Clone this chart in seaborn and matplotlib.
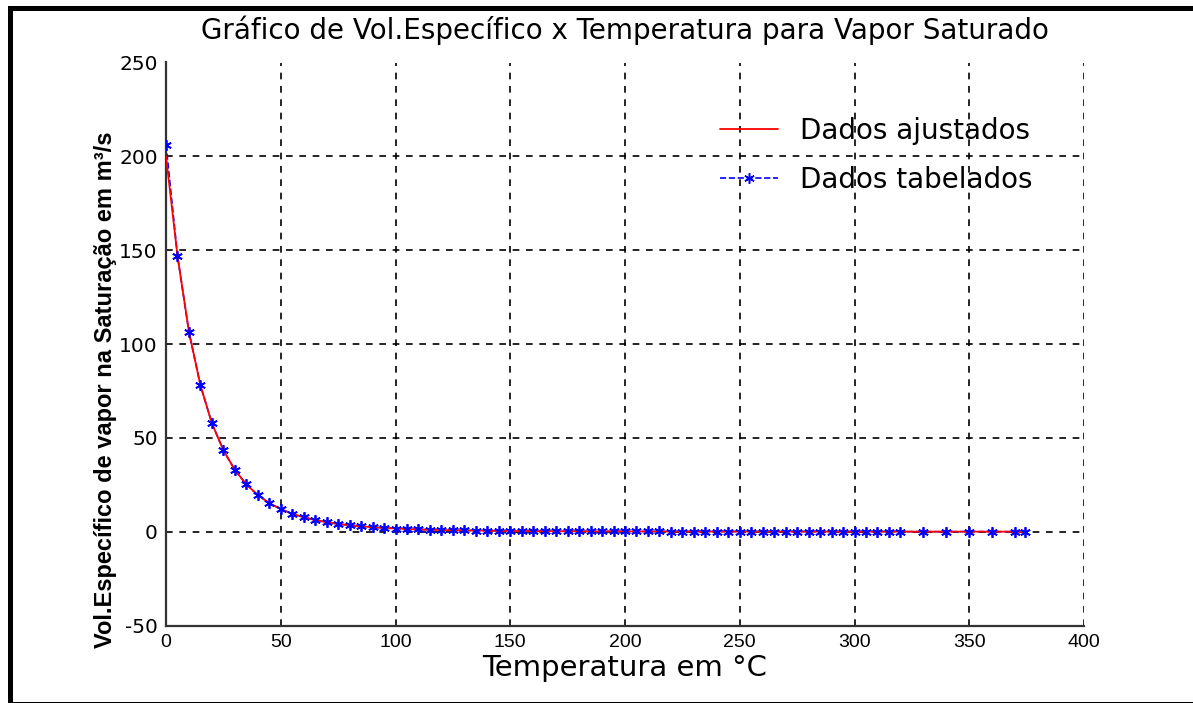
import numpy as np
import pandas as pd
import matplotlib
matplotlib.use("Agg")
import matplotlib.pyplot as plt
from matplotlib.patches import Rectangle
import seaborn as sns

# Saturated water vapour: temperature (°C) and specific volume
temperatura = [0.01, 5, 10, 15, 20, 25, 30, 35, 40, 45, 50, 55, 60, 65, 70, 75,
               80, 85, 90, 95, 100, 105, 110, 115, 120, 125, 130, 135, 140, 145,
               150, 155, 160, 165, 170, 175, 180, 185, 190, 195, 200, 205, 210,
               215, 220, 225, 230, 235, 240, 245, 250, 255, 260, 265, 270, 275,
               280, 285, 290, 295, 300, 305, 310, 315, 320, 330, 340, 350, 360,
               370, 374.14]
vol_tabelado = [206.14, 147.12, 106.38, 77.93, 57.79, 43.36, 32.89, 25.22, 19.52,
                15.26, 12.03, 9.568, 7.671, 6.197, 5.042, 4.131, 3.407, 2.828,
                2.361, 1.982, 1.6729, 1.4194, 1.2102, 1.0366, 0.8919, 0.7706,
                0.6685, 0.5822, 0.5089, 0.4463, 0.3928, 0.3468, 0.3071, 0.2727,
                0.2428, 0.2168, 0.19405, 0.17409, 0.15654, 0.14105, 0.12736,
                0.11521, 0.10441, 0.09479, 0.08619, 0.07849, 0.07158, 0.06537,
                0.05976, 0.05471, 0.05013, 0.04598, 0.04221, 0.03877, 0.03564,
                0.03279, 0.03017, 0.02777, 0.02557, 0.02354, 0.02167, 0.019948,
                0.01835, 0.016867, 0.015488, 0.012996, 0.010797, 0.008813,
                0.006945, 0.004925, 0.003155]
vol_ajustado = [200.0, 147.0, 106.5, 78.0, 57.7, 43.4, 32.9, 25.2, 19.5, 15.3,
                12.0, 9.6, 7.7, 6.2, 5.0, 4.1, 3.4, 2.8, 2.4, 2.0, 1.7, 1.4,
                1.2, 1.0, 0.9, 0.8, 0.7, 0.6, 0.5, 0.45, 0.39, 0.35, 0.31,
                0.27, 0.24, 0.22, 0.19, 0.17, 0.16, 0.14, 0.13, 0.12, 0.10,
                0.09, 0.09, 0.08, 0.07, 0.07, 0.06, 0.05, 0.05, 0.05, 0.04,
                0.04, 0.04, 0.03, 0.03, 0.03, 0.03, 0.02, 0.02, 0.02, 0.02,
                0.02, 0.02, 0.01, 0.01, 0.01, 0.01, 0.0, 0.0]

x_ticks = [0, 50, 100, 150, 200, 250, 300, 350, 400]
y_ticks = [-50, 0, 50, 100, 150, 200, 250]

titulo = "Gráfico de Vol.Específico x Temperatura para Vapor Saturado"
rotulo_x = "Temperatura em °C"
rotulo_y = "Vol.Específico de vapor na Saturação em m³/s"

df = pd.DataFrame({"T": temperatura, "tab": vol_tabelado, "aj": vol_ajustado})

sns.set_style("white")
plt.rcParams["font.family"] = ["Liberation Sans", "DejaVu Sans"]
plt.rcParams["text.color"] = "black"
plt.rcParams["axes.labelcolor"] = "black"
plt.rcParams["axes.unicode_minus"] = False

fig = plt.figure(figsize=(11.93, 7.03), dpi=100)
W, H = 1193, 703
ax = fig.add_axes([166 / W, 1 - 625.5 / H, (1084 - 166) / W, (625.5 - 62.5) / H])

mk = dict(marker=(6, 2, 0), markersize=7.5, markeredgewidth=1.1,
          markeredgecolor="#0000ff")
# tabulated data: dashed blue line with asterisks (legend entry)
sns.lineplot(data=df, x="T", y="tab", ax=ax, color="#0000ff", linestyle="--",
             linewidth=1.2, label="Dados tabelados", zorder=2, sort=False, **mk)
# fitted curve on top of the dashed line
sns.lineplot(data=df, x="T", y="aj", ax=ax, color="#ff0000", linewidth=1.3,
             label="Dados ajustados", zorder=3, sort=False)
# asterisks repeated above the red curve
sns.lineplot(data=df, x="T", y="tab", ax=ax, color="#0000ff", linestyle="none",
             zorder=4, sort=False, legend=False, **mk)

ax.set_xlim(0, 400)
ax.set_ylim(-50, 250)
ax.set_xticks(x_ticks)
ax.set_yticks(y_ticks)
ax.grid(True, color="black", linestyle=(0, (4, 4)), linewidth=1.2)
ax.set_axisbelow(True)
for s in ["top", "right"]:
    ax.spines[s].set_visible(False)
for s in ["left", "bottom"]:
    ax.spines[s].set_color("#333333")
    ax.spines[s].set_linewidth(1.6)
ax.tick_params(direction="in", length=5, width=1, colors="#333333",
               labelcolor="black", pad=6)
for lab in ax.get_xticklabels():
    lab.set_fontsize(14)
    lab.set_family(["Liberation Sans"])
for lab in ax.get_yticklabels():
    lab.set_fontsize(14.5)
    lab.set_family(["DejaVu Sans"])

ax.set_xlabel(rotulo_x, fontsize=21, family=["DejaVu Sans"], labelpad=2)
ax.set_ylabel(rotulo_y, fontsize=17, fontweight="bold",
              family=["Liberation Sans", "DejaVu Sans"])
ax.yaxis.set_label_coords(-0.053, 0.418)
ax.set_title(titulo, fontsize=20, family=["DejaVu Sans"], pad=17)

handles, labels = ax.get_legend_handles_labels()
order = [labels.index("Dados ajustados"), labels.index("Dados tabelados")]
leg = ax.legend([handles[i] for i in order], [labels[i] for i in order],
                loc="center left", bbox_to_anchor=(0.603, 0.835), frameon=False,
                handlelength=2.1, handletextpad=0.8,
                labelspacing=0.75, borderpad=0, borderaxespad=0,
                prop={"family": "DejaVu Sans", "size": 20})

# outer frame around the figure
fig.patches.append(Rectangle((9.5 / W, 1 - 704 / H), (1210 - 9.5) / W,
                             (704 - 8) / H, transform=fig.transFigure,
                             fill=False, edgecolor="black", linewidth=3.6))

fig.savefig("out.png", dpi=100)
